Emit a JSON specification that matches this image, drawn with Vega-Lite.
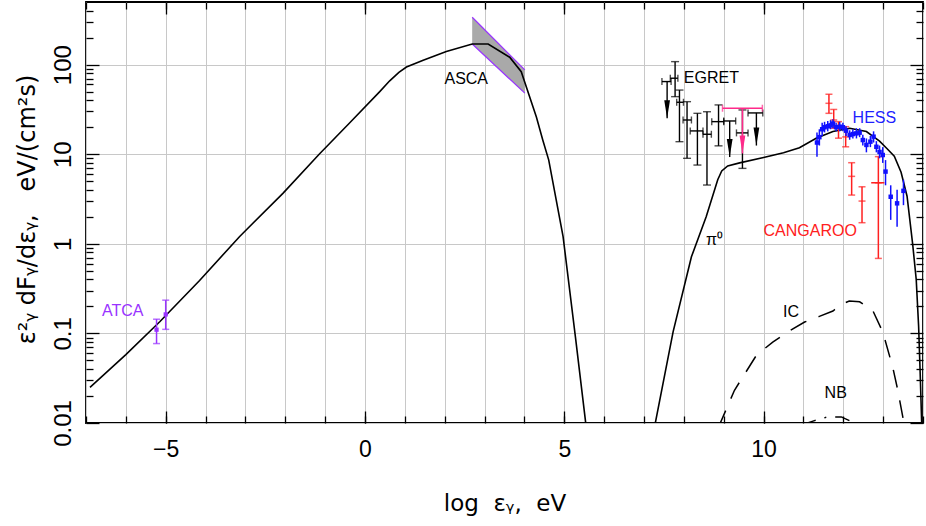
{
  "$schema": "https://vega.github.io/schema/vega-lite/v6.json",
  "width": 837,
  "height": 421,
  "autosize": {"type": "none"},
  "padding": {"left": 86, "top": 2, "right": 3, "bottom": 103},
  "background": "white",
  "config": {
    "view": {"stroke": "black", "strokeWidth": 1.8},
    "axis": {"domain": false, "tickColor": "black", "tickWidth": 1.3, "gridColor": "#c8c8c8", "gridWidth": 1, "labelFont": "Liberation Sans", "titleFont": "DejaVu Sans", "labelColor": "black", "titleColor": "black", "titleFontWeight": "normal", "labelOverlap": false, "labelFlush": false, "labelBound": false}
  },
  "resolve": {"axis": {"x": "independent", "y": "independent"}},
  "datasets": {
    "synch": [
      {"x": -6.9, "y": 0.025}, {"x": -6.0, "y": 0.058}, {"x": -5.15, "y": 0.135}, {"x": -4.15, "y": 0.39}, {"x": -3.15, "y": 1.2}, {"x": -2.06, "y": 3.66}, {"x": -1.15, "y": 10}, {"x": -0.4, "y": 22}, {"x": 0.37, "y": 50}, {"x": 0.62, "y": 66}, {"x": 0.85, "y": 82}, {"x": 1.04, "y": 94}, {"x": 1.46, "y": 112}, {"x": 2.04, "y": 140}, {"x": 2.69, "y": 170}, {"x": 3.09, "y": 170}, {"x": 3.63, "y": 121}, {"x": 3.92, "y": 83.5}, {"x": 4.30, "y": 26}, {"x": 4.46, "y": 14.4}, {"x": 4.61, "y": 8.6}, {"x": 4.97, "y": 1.2}, {"x": 5.28, "y": 0.091}, {"x": 5.55, "y": 0.009}
    ],
    "pi0": [
      {"x": 7.28, "y": 0.0098}, {"x": 7.73, "y": 0.104}, {"x": 8.19, "y": 0.716}, {"x": 8.56, "y": 2.0}, {"x": 8.85, "y": 5.2}, {"x": 8.95, "y": 6.5}, {"x": 9.1, "y": 7.4}, {"x": 9.4, "y": 8.0}, {"x": 10, "y": 9.2}, {"x": 10.5, "y": 10.4}, {"x": 10.9, "y": 11.8}, {"x": 11.32, "y": 15.1}, {"x": 11.74, "y": 17.9}, {"x": 12.16, "y": 19.5}, {"x": 12.58, "y": 17.9}, {"x": 12.91, "y": 14}, {"x": 13.1, "y": 11.5}, {"x": 13.28, "y": 9.5}, {"x": 13.45, "y": 6.3}, {"x": 13.6, "y": 3.4}, {"x": 13.74, "y": 1.0}, {"x": 13.83, "y": 0.4}, {"x": 13.89, "y": 0.12}, {"x": 13.93, "y": 0.035}, {"x": 13.97, "y": 0.009}
    ],
    "ic": [
      {"x": 8.87, "y": 0.009}, {"x": 9.27, "y": 0.0232}, {"x": 9.82, "y": 0.057}, {"x": 10.23, "y": 0.080}, {"x": 10.61, "y": 0.104}, {"x": 11.03, "y": 0.134}, {"x": 11.4, "y": 0.155}, {"x": 11.74, "y": 0.178}, {"x": 11.95, "y": 0.21}, {"x": 12.15, "y": 0.23}, {"x": 12.41, "y": 0.225}, {"x": 12.74, "y": 0.18}, {"x": 12.99, "y": 0.104}, {"x": 13.24, "y": 0.042}, {"x": 13.37, "y": 0.023}, {"x": 13.54, "y": 0.009}
    ],
    "nb": [
      {"x": 10.95, "y": 0.0095}, {"x": 11.24, "y": 0.0105}, {"x": 11.61, "y": 0.0117}, {"x": 11.95, "y": 0.0117}, {"x": 12.16, "y": 0.0106}, {"x": 12.28, "y": 0.0095}
    ],
    "asca": [
      {"x": 2.69, "lo": 170, "hi": 338},
      {"x": 4.01, "lo": 48, "hi": 87.3}
    ],
    "atca": [
      {"x": -5.23, "y": 0.110, "lo": 0.077, "hi": 0.144},
      {"x": -5.0, "y": 0.163, "lo": 0.111, "hi": 0.235}
    ],
    "egret": [
      {"x": 7.78, "xlo": 7.66, "xhi": 7.85, "y": 70.5, "lo": 43.9, "hi": 108},
      {"x": 7.89, "xlo": 7.82, "xhi": 7.99, "y": 38, "lo": 13.8, "hi": 52},
      {"x": 8.08, "xlo": 7.98, "xhi": 8.19, "y": 24.1, "lo": 9.0, "hi": 38.6},
      {"x": 8.34, "xlo": 8.16, "xhi": 8.48, "y": 18.2, "lo": 7.57, "hi": 28.6},
      {"x": 8.58, "xlo": 8.48, "xhi": 8.69, "y": 16.7, "lo": 4.53, "hi": 29.8},
      {"x": 8.87, "xlo": 8.70, "xhi": 9.0, "y": 23.1, "lo": 12.4, "hi": 35.5},
      {"x": 9.47, "xlo": 9.32, "xhi": 9.61, "y": 17.3, "lo": 6.95, "hi": 31.2}
    ],
    "egretul": [
      {"x": 7.58, "xlo": 7.45, "xhi": 7.68, "y": 64.7, "tip": 25.2},
      {"x": 9.15, "xlo": 9.0, "xhi": 9.3, "y": 23.5, "tip": 9.3},
      {"x": 9.82, "xlo": 9.61, "xhi": 9.98, "y": 28.9, "tip": 12.5}
    ],
    "magul": [
      {"x": 9.47, "xlo": 8.97, "xhi": 9.97, "y": 32.6, "tip": 10.2}
    ],
    "hess": [
      {"x": 11.34, "y": 13.5, "lo": 9.4, "hi": 17.5},
      {"x": 11.40, "y": 15.5, "lo": 12.5, "hi": 19},
      {"x": 11.47, "y": 19, "lo": 16, "hi": 22.5},
      {"x": 11.53, "y": 20, "lo": 17.5, "hi": 23},
      {"x": 11.61, "y": 20.5, "lo": 18, "hi": 23.5},
      {"x": 11.68, "y": 21, "lo": 19, "hi": 24},
      {"x": 11.74, "y": 22, "lo": 19.5, "hi": 24.5},
      {"x": 11.82, "y": 20, "lo": 18, "hi": 22.5},
      {"x": 11.91, "y": 20.3, "lo": 18, "hi": 23},
      {"x": 11.99, "y": 20, "lo": 18, "hi": 22.5},
      {"x": 12.07, "y": 18.3, "lo": 16, "hi": 20.5},
      {"x": 12.16, "y": 16.4, "lo": 14.5, "hi": 18.5},
      {"x": 12.24, "y": 16.8, "lo": 15, "hi": 19},
      {"x": 12.33, "y": 17.1, "lo": 15, "hi": 19.5},
      {"x": 12.41, "y": 17.4, "lo": 15.5, "hi": 19.5},
      {"x": 12.49, "y": 14.4, "lo": 12.5, "hi": 16.5},
      {"x": 12.58, "y": 12.7, "lo": 10.5, "hi": 15},
      {"x": 12.68, "y": 13.8, "lo": 12, "hi": 16},
      {"x": 12.76, "y": 15.7, "lo": 13.5, "hi": 18},
      {"x": 12.83, "y": 12.1, "lo": 10.5, "hi": 14},
      {"x": 12.91, "y": 10.6, "lo": 9, "hi": 12.5},
      {"x": 12.99, "y": 9.8, "lo": 8, "hi": 12},
      {"x": 13.06, "y": 6.4, "lo": 4.5, "hi": 8.6},
      {"x": 13.19, "y": 3.35, "lo": 1.85, "hi": 4.5},
      {"x": 13.35, "y": 2.83, "lo": 1.55, "hi": 4.0},
      {"x": 13.51, "y": 3.9, "lo": 2.7, "hi": 5.2}
    ],
    "cangaroo": [
      {"x": 11.64, "y": 37, "lo": 28.6, "hi": 46.7},
      {"x": 11.76, "y": 24.1, "lo": 19.5, "hi": 31.6},
      {"x": 11.88, "y": 19.6, "lo": 15.1, "hi": 23.1},
      {"x": 12.06, "y": 15.6, "lo": 12.1, "hi": 20.3},
      {"x": 12.21, "y": 5.66, "lo": 3.5, "hi": 8.04},
      {"x": 12.47, "y": 3.0, "lo": 1.72, "hi": 4.33},
      {"x": 12.88, "y": 4.8, "lo": 0.687, "hi": 9.4, "xlo": 12.70, "xhi": 13.03}
    ],
    "labels": [
      {"x": -6.08, "y": 0.178, "text": "ATCA"},
      {"x": 2.54, "y": 70, "text": "ASCA"},
      {"x": 8.69, "y": 71.6, "text": "EGRET"},
      {"x": 12.78, "y": 25.2, "text": "HESS"},
      {"x": 11.17, "y": 1.40, "text": "CANGAROO"},
      {"x": 8.77, "y": 1.1, "text": "π⁰"},
      {"x": 10.69, "y": 0.174, "text": "IC"},
      {"x": 11.81, "y": 0.0215, "text": "NB"}
    ]
  },
  "layer": [
    {
      "data": {"name": "asca"},
      "mark": {"type": "area", "color": "#a9a9a9", "opacity": 1},
      "encoding": {
        "x": {"field": "x", "type": "quantitative", "scale": {"domain": [-7, 14], "nice": false, "zero": false},
          "axis": {"orient": "top", "values": [-5, 0, 5, 10], "tickSize": -12, "labels": false, "grid": false, "title": null, "zindex": 1}},
        "y": {"field": "hi", "type": "quantitative", "scale": {"type": "log", "domain": [0.01, 500], "nice": false},
          "axis": {"orient": "right", "values": [0.02, 0.03, 0.04, 0.05, 0.06, 0.07, 0.08, 0.09, 0.2, 0.3, 0.4, 0.5, 0.6, 0.7, 0.8, 0.9, 2, 3, 4, 5, 6, 7, 8, 9, 20, 30, 40, 50, 60, 70, 80, 90, 200, 300, 400], "tickSize": -7, "labels": false, "grid": false, "title": null, "zindex": 1}},
        "y2": {"field": "lo"}
      }
    },
    {
      "data": {"name": "asca"},
      "mark": {"type": "line", "color": "#9933ff", "strokeWidth": 1.2},
      "encoding": {
        "x": {"field": "x", "type": "quantitative", "axis": null},
        "y": {"field": "hi", "type": "quantitative", "axis": null}
      }
    },
    {
      "data": {"name": "asca"},
      "mark": {"type": "line", "color": "#9933ff", "strokeWidth": 1.2},
      "encoding": {
        "x": {"field": "x", "type": "quantitative", "axis": null},
        "y": {"field": "lo", "type": "quantitative", "axis": null}
      }
    },
    {
      "data": {"name": "synch"},
      "mark": {"type": "line", "clip": true, "color": "black", "strokeWidth": 1.6},
      "encoding": {
        "x": {"field": "x", "type": "quantitative",
          "axis": {"orient": "bottom", "values": [-5, 0, 5, 10], "ticks": false, "grid": false, "labelFontSize": 23, "labelPadding": 33, "labelBaseline": "alphabetic",
            "title": "log\u00a0\u00a0εᵧ,\u00a0\u00a0eV", "titleFontSize": 23, "titleY": 87, "titleBaseline": "alphabetic", "zindex": 2}},
        "y": {"field": "y", "type": "quantitative",
          "axis": {"orient": "left", "values": [0.01, 0.1, 1, 10, 100], "format": "~g", "ticks": false, "grid": false, "labelAngle": -90, "labelAlign": "center", "labelBaseline": "alphabetic", "labelPadding": 16, "labelFontSize": 24,
            "title": "ε²ᵧ\u00a0dFᵧ/dεᵧ,\u00a0\u00a0\u00a0eV/(cm²s)", "titleFontSize": 24, "titleAngle": -90, "titleX": -52, "titleY": 207, "titleAlign": "center", "titleBaseline": "alphabetic", "zindex": 2}}
      }
    },
    {
      "data": {"name": "pi0"},
      "mark": {"type": "line", "clip": true, "color": "black", "strokeWidth": 1.6},
      "encoding": {
        "x": {"field": "x", "type": "quantitative",
          "axis": {"orient": "bottom", "values": [-7, -6, -5, -4, -3, -2, -1, 0, 1, 2, 3, 4, 5, 6, 7, 8, 9, 10, 11, 12, 13, 14], "grid": true, "labels": false, "tickSize": -7, "title": null, "zindex": 0}},
        "y": {"field": "y", "type": "quantitative",
          "axis": {"orient": "left", "values": [0.01, 0.1, 1, 10, 100], "grid": true, "labels": false, "tickSize": -13, "title": null, "zindex": 0}}
      }
    },
    {
      "data": {"name": "ic"},
      "mark": {"type": "line", "clip": true, "color": "black", "strokeWidth": 1.5, "strokeDash": [18, 13]},
      "encoding": {
        "x": {"field": "x", "type": "quantitative",
          "axis": {"orient": "bottom", "values": [-5, 0, 5, 10], "tickSize": -12, "labels": false, "grid": false, "title": null, "zindex": 1}},
        "y": {"field": "y", "type": "quantitative",
          "axis": {"orient": "left", "values": [0.02, 0.03, 0.04, 0.05, 0.06, 0.07, 0.08, 0.09, 0.2, 0.3, 0.4, 0.5, 0.6, 0.7, 0.8, 0.9, 2, 3, 4, 5, 6, 7, 8, 9, 20, 30, 40, 50, 60, 70, 80, 90, 200, 300, 400], "tickSize": -7, "labels": false, "grid": false, "title": null, "zindex": 1}}
      }
    },
    {
      "data": {"name": "nb"},
      "mark": {"type": "line", "clip": true, "color": "black", "strokeWidth": 1.5, "strokeDash": [15, 9, 2, 9]},
      "encoding": {
        "x": {"field": "x", "type": "quantitative",
          "axis": {"orient": "top", "values": [-7, -6, -5, -4, -3, -2, -1, 0, 1, 2, 3, 4, 5, 6, 7, 8, 9, 10, 11, 12, 13, 14], "tickSize": -7, "labels": false, "grid": false, "title": null, "zindex": 1}},
        "y": {"field": "y", "type": "quantitative",
          "axis": {"orient": "right", "values": [0.01, 0.1, 1, 10, 100], "tickSize": -13, "labels": false, "grid": false, "title": null, "zindex": 1}}
      }
    },
    {
      "data": {"name": "atca"},
      "mark": {"type": "rule", "color": "#9933ff", "strokeWidth": 1.5},
      "encoding": {
        "x": {"field": "x", "type": "quantitative", "axis": null},
        "y": {"field": "lo", "type": "quantitative", "axis": null},
        "y2": {"field": "hi"}
      }
    },
    {
      "data": {"name": "atca"},
      "mark": {"type": "tick", "orient": "horizontal", "color": "#9933ff", "size": 7, "thickness": 1.5},
      "encoding": {
        "x": {"field": "x", "type": "quantitative", "axis": null},
        "y": {"field": "lo", "type": "quantitative", "axis": null}
      }
    },
    {
      "data": {"name": "atca"},
      "mark": {"type": "tick", "orient": "horizontal", "color": "#9933ff", "size": 7, "thickness": 1.5},
      "encoding": {
        "x": {"field": "x", "type": "quantitative", "axis": null},
        "y": {"field": "hi", "type": "quantitative", "axis": null}
      }
    },
    {
      "data": {"name": "atca"},
      "mark": {"type": "point", "shape": "square", "filled": true, "color": "#9933ff", "size": 18, "opacity": 1},
      "encoding": {
        "x": {"field": "x", "type": "quantitative", "axis": null},
        "y": {"field": "y", "type": "quantitative", "axis": null}
      }
    },
    {
      "data": {"name": "egret"},
      "mark": {"type": "rule", "color": "black", "strokeWidth": 1.4},
      "encoding": {
        "x": {"field": "x", "type": "quantitative", "axis": null},
        "y": {"field": "lo", "type": "quantitative", "axis": null},
        "y2": {"field": "hi"}
      }
    },
    {
      "data": {"name": "egret"},
      "mark": {"type": "tick", "orient": "horizontal", "color": "black", "size": 8, "thickness": 1.4},
      "encoding": {
        "x": {"field": "x", "type": "quantitative", "axis": null},
        "y": {"field": "lo", "type": "quantitative", "axis": null}
      }
    },
    {
      "data": {"name": "egret"},
      "mark": {"type": "tick", "orient": "horizontal", "color": "black", "size": 8, "thickness": 1.4},
      "encoding": {
        "x": {"field": "x", "type": "quantitative", "axis": null},
        "y": {"field": "hi", "type": "quantitative", "axis": null}
      }
    },
    {
      "data": {"name": "egret"},
      "mark": {"type": "rule", "color": "black", "strokeWidth": 1.4},
      "encoding": {
        "x": {"field": "xlo", "type": "quantitative", "axis": null},
        "x2": {"field": "xhi"},
        "y": {"field": "y", "type": "quantitative", "axis": null}
      }
    },
    {
      "data": {"name": "egret"},
      "mark": {"type": "tick", "orient": "vertical", "color": "black", "size": 7, "thickness": 1.4},
      "encoding": {
        "x": {"field": "xlo", "type": "quantitative", "axis": null},
        "y": {"field": "y", "type": "quantitative", "axis": null}
      }
    },
    {
      "data": {"name": "egret"},
      "mark": {"type": "tick", "orient": "vertical", "color": "black", "size": 7, "thickness": 1.4},
      "encoding": {
        "x": {"field": "xhi", "type": "quantitative", "axis": null},
        "y": {"field": "y", "type": "quantitative", "axis": null}
      }
    },
    {
      "data": {"name": "egretul"},
      "mark": {"type": "rule", "color": "black", "strokeWidth": 1.4},
      "encoding": {
        "x": {"field": "xlo", "type": "quantitative", "axis": null},
        "x2": {"field": "xhi"},
        "y": {"field": "y", "type": "quantitative", "axis": null}
      }
    },
    {
      "data": {"name": "egretul"},
      "mark": {"type": "tick", "orient": "vertical", "color": "black", "size": 7, "thickness": 1.4},
      "encoding": {
        "x": {"field": "xlo", "type": "quantitative", "axis": null},
        "y": {"field": "y", "type": "quantitative", "axis": null}
      }
    },
    {
      "data": {"name": "egretul"},
      "mark": {"type": "tick", "orient": "vertical", "color": "black", "size": 7, "thickness": 1.4},
      "encoding": {
        "x": {"field": "xhi", "type": "quantitative", "axis": null},
        "y": {"field": "y", "type": "quantitative", "axis": null}
      }
    },
    {
      "data": {"name": "egretul"},
      "mark": {"type": "rule", "color": "black", "strokeWidth": 1.4},
      "encoding": {
        "x": {"field": "x", "type": "quantitative", "axis": null},
        "y": {"field": "y", "type": "quantitative", "axis": null},
        "y2": {"field": "tip"}
      }
    },
    {
      "data": {"name": "egretul"},
      "mark": {"type": "point", "shape": "M -0.16 -1 L 0 0 L 0.16 -1 Z", "filled": true, "color": "black", "size": 1296, "opacity": 1, "strokeWidth": 1},
      "encoding": {
        "x": {"field": "x", "type": "quantitative", "axis": null},
        "y": {"field": "tip", "type": "quantitative", "axis": null}
      }
    },
    {
      "data": {"name": "magul"},
      "mark": {"type": "rule", "color": "#ff2a8a", "strokeWidth": 1.5},
      "encoding": {
        "x": {"field": "xlo", "type": "quantitative", "axis": null},
        "x2": {"field": "xhi"},
        "y": {"field": "y", "type": "quantitative", "axis": null}
      }
    },
    {
      "data": {"name": "magul"},
      "mark": {"type": "tick", "orient": "vertical", "color": "#ff2a8a", "size": 7, "thickness": 1.5},
      "encoding": {
        "x": {"field": "xlo", "type": "quantitative", "axis": null},
        "y": {"field": "y", "type": "quantitative", "axis": null}
      }
    },
    {
      "data": {"name": "magul"},
      "mark": {"type": "tick", "orient": "vertical", "color": "#ff2a8a", "size": 7, "thickness": 1.5},
      "encoding": {
        "x": {"field": "xhi", "type": "quantitative", "axis": null},
        "y": {"field": "y", "type": "quantitative", "axis": null}
      }
    },
    {
      "data": {"name": "magul"},
      "mark": {"type": "rule", "color": "#ff2a8a", "strokeWidth": 1.5},
      "encoding": {
        "x": {"field": "x", "type": "quantitative", "axis": null},
        "y": {"field": "y", "type": "quantitative", "axis": null},
        "y2": {"field": "tip"}
      }
    },
    {
      "data": {"name": "magul"},
      "mark": {"type": "point", "shape": "M -0.16 -1 L 0 0 L 0.16 -1 Z", "filled": true, "color": "#ff2a8a", "size": 1296, "opacity": 1},
      "encoding": {
        "x": {"field": "x", "type": "quantitative", "axis": null},
        "y": {"field": "tip", "type": "quantitative", "axis": null}
      }
    },
    {
      "data": {"name": "cangaroo"},
      "mark": {"type": "rule", "color": "#ff2020", "strokeWidth": 1.5},
      "encoding": {
        "x": {"field": "x", "type": "quantitative", "axis": null},
        "y": {"field": "lo", "type": "quantitative", "axis": null},
        "y2": {"field": "hi"}
      }
    },
    {
      "data": {"name": "cangaroo"},
      "mark": {"type": "tick", "orient": "horizontal", "color": "#ff2020", "size": 7, "thickness": 1.5},
      "encoding": {
        "x": {"field": "x", "type": "quantitative", "axis": null},
        "y": {"field": "lo", "type": "quantitative", "axis": null}
      }
    },
    {
      "data": {"name": "cangaroo"},
      "mark": {"type": "tick", "orient": "horizontal", "color": "#ff2020", "size": 7, "thickness": 1.5},
      "encoding": {
        "x": {"field": "x", "type": "quantitative", "axis": null},
        "y": {"field": "hi", "type": "quantitative", "axis": null}
      }
    },
    {
      "data": {"name": "cangaroo"},
      "mark": {"type": "tick", "orient": "horizontal", "color": "#ff2020", "size": 7, "thickness": 1.5},
      "encoding": {
        "x": {"field": "x", "type": "quantitative", "axis": null},
        "y": {"field": "y", "type": "quantitative", "axis": null}
      }
    },
    {
      "data": {"name": "cangaroo"},
      "transform": [{"filter": "isValid(datum.xlo)"}],
      "mark": {"type": "rule", "color": "#ff2020", "strokeWidth": 1.5},
      "encoding": {
        "x": {"field": "xlo", "type": "quantitative", "axis": null},
        "x2": {"field": "xhi"},
        "y": {"field": "y", "type": "quantitative", "axis": null}
      }
    },
    {
      "data": {"name": "hess"},
      "mark": {"type": "rule", "color": "#1010ff", "strokeWidth": 1.5},
      "encoding": {
        "x": {"field": "x", "type": "quantitative", "axis": null},
        "y": {"field": "lo", "type": "quantitative", "axis": null},
        "y2": {"field": "hi"}
      }
    },
    {
      "data": {"name": "hess"},
      "mark": {"type": "point", "shape": "square", "filled": true, "color": "#1010ff", "size": 20, "opacity": 1},
      "encoding": {
        "x": {"field": "x", "type": "quantitative", "axis": null},
        "y": {"field": "y", "type": "quantitative", "axis": null}
      }
    },
    {
      "data": {"name": "labels"},
      "mark": {"type": "text", "font": "Liberation Sans", "fontSize": 16, "align": "center", "baseline": "middle"},
      "encoding": {
        "x": {"field": "x", "type": "quantitative", "axis": null},
        "y": {"field": "y", "type": "quantitative", "axis": null},
        "text": {"field": "text"},
        "color": {"field": "text", "type": "nominal", "legend": null,
          "scale": {"domain": ["ATCA", "ASCA", "EGRET", "HESS", "CANGAROO", "π⁰", "IC", "NB"], "range": ["#9933ff", "black", "black", "#1f1fff", "#ff2020", "black", "black", "black"]}}
      }
    }
  ]
}
